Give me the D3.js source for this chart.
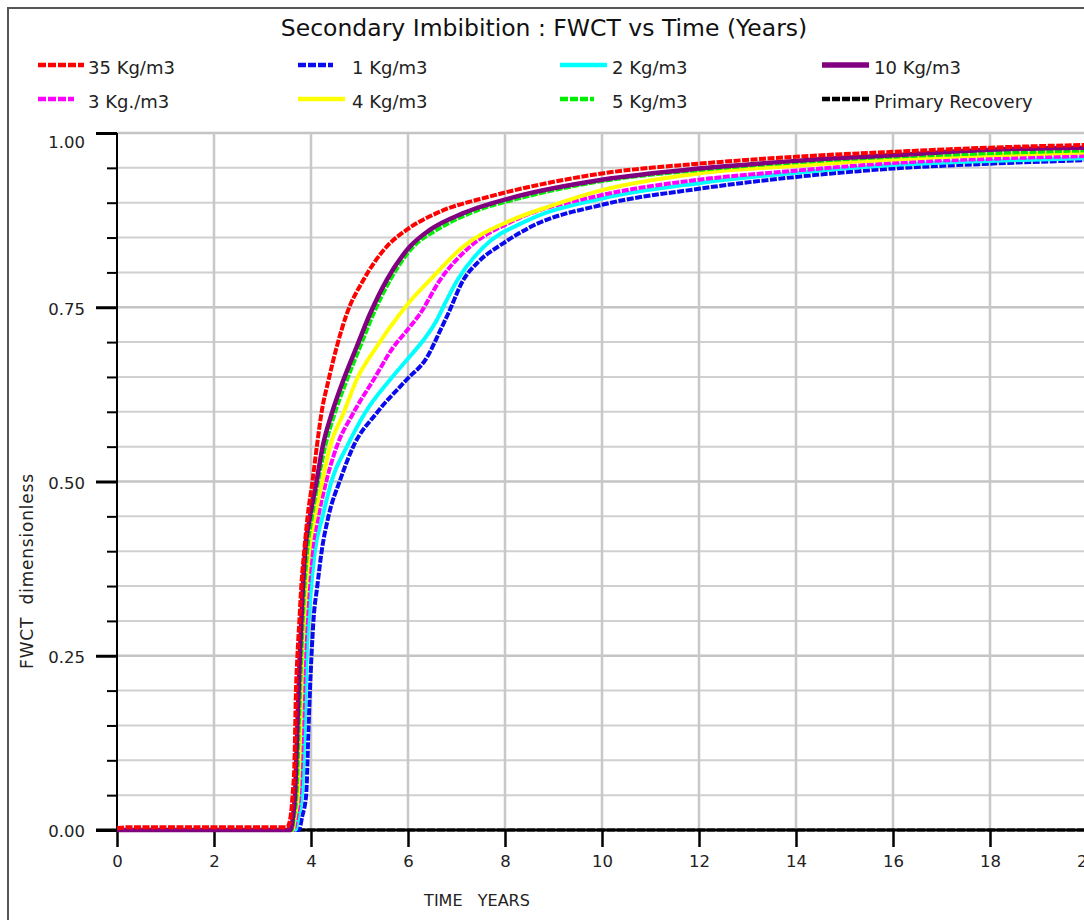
<!DOCTYPE html>
<html>
<head>
<meta charset="utf-8">
<script src="https://cdn.jsdelivr.net/npm/d3@7"></script>
<style>
  body { margin: 0; background: #fff; }
  svg { display: block; font-family: "DejaVu Sans", sans-serif; }
</style>
</head>
<body>
<div id="graph"></div>
<script>
// [years, FWCT]
var kg35 = [[0,0.003],[0.3,0.004],[3.5,0.004],[3.56,0.012],[3.62,0.05],[3.66,0.10],[3.69,0.20],[3.72,0.25],[3.76,0.30],[3.80,0.35],[3.86,0.40],[3.93,0.45],[4.03,0.50],[4.12,0.55],[4.22,0.60],[4.36,0.645],[4.53,0.693],[4.74,0.741],[5.08,0.789],[5.56,0.837],[5.97,0.861],[6.59,0.885],[7.69,0.909],[8.86,0.928],[10,0.942],[12,0.956],[14,0.966],[16,0.973],[18,0.979],[20,0.983]];
var kg1 = [[0,0],[3.75,0],[3.82,0.02],[3.90,0.05],[3.95,0.15],[4.01,0.25],[4.05,0.30],[4.13,0.35],[4.22,0.40],[4.36,0.45],[4.60,0.502],[4.87,0.55],[5.35,0.598],[5.97,0.646],[6.39,0.678],[6.66,0.716],[6.83,0.741],[7.14,0.789],[7.42,0.813],[7.97,0.842],[8.52,0.865],[10,0.897],[12,0.920],[14,0.937],[16,0.949],[18,0.956],[20,0.961]];
var kg2 = [[0,0],[3.68,0],[3.74,0.02],[3.81,0.05],[3.87,0.15],[3.91,0.25],[3.98,0.33],[4.08,0.40],[4.24,0.45],[4.43,0.502],[4.74,0.55],[5.11,0.598],[5.63,0.646],[5.97,0.674],[6.32,0.703],[6.59,0.731],[6.76,0.755],[7.02,0.789],[7.55,0.836],[8.45,0.874],[10,0.906],[12,0.928],[14,0.943],[16,0.954],[18,0.960],[20,0.964]];
var kg10 = [[0,0],[3.58,0],[3.63,0.02],[3.67,0.05],[3.72,0.15],[3.77,0.25],[3.82,0.33],[3.88,0.40],[3.98,0.45],[4.12,0.502],[4.24,0.55],[4.43,0.598],[4.67,0.646],[4.94,0.693],[5.22,0.741],[5.56,0.789],[6.04,0.837],[6.45,0.861],[7.14,0.885],[8.24,0.909],[10,0.933],[12,0.949],[14,0.960],[16,0.968],[18,0.976],[20,0.979]];
var kg3 = [[0,0],[3.64,0],[3.70,0.02],[3.76,0.05],[3.82,0.15],[3.86,0.25],[3.92,0.33],[4.02,0.40],[4.15,0.45],[4.32,0.502],[4.53,0.55],[4.87,0.598],[5.29,0.646],[5.70,0.693],[5.97,0.716],[6.25,0.741],[6.66,0.789],[7.28,0.837],[8.17,0.874],[10,0.911],[12,0.933],[14,0.946],[16,0.957],[18,0.963],[20,0.967]];
var kg4 = [[0,0],[3.62,0],[3.67,0.02],[3.73,0.05],[3.78,0.15],[3.82,0.25],[3.88,0.33],[3.96,0.40],[4.08,0.45],[4.24,0.502],[4.39,0.55],[4.67,0.598],[4.94,0.646],[5.35,0.693],[5.84,0.741],[6.11,0.764],[6.45,0.789],[7.14,0.837],[8.10,0.874],[8.93,0.895],[10,0.918],[12,0.942],[14,0.953],[16,0.962],[18,0.968],[20,0.972]];
var kg5 = [[0,0],[3.6,0],[3.65,0.02],[3.70,0.05],[3.75,0.15],[3.80,0.25],[3.85,0.33],[3.92,0.40],[4.02,0.45],[4.15,0.502],[4.29,0.55],[4.49,0.598],[4.74,0.646],[5.01,0.693],[5.29,0.741],[5.63,0.789],[6.11,0.837],[6.59,0.861],[7.28,0.885],[8.45,0.909],[10,0.931],[12,0.947],[14,0.958],[16,0.966],[18,0.971],[20,0.975]];
var primary = [[0,0],[20,0]];

var seriesNames = ["35 Kg/m3", "1 Kg/m3", "2 Kg/m3", "10 Kg/m3", "3 Kg./m3", "4 Kg/m3", "5 Kg/m3", "Primary Recovery"];
var seriesData = [kg35, kg1, kg2, kg10, kg3, kg4, kg5, primary];
var xTicks = [0, 2, 4, 6, 8, 10, 12, 14, 16, 18, 20];
var yMajor = [0, 0.25, 0.5, 0.75, 1];
var yMinor = [0.05, 0.1, 0.15, 0.2, 0.3, 0.35, 0.4, 0.45, 0.55, 0.6, 0.65, 0.7, 0.8, 0.85, 0.9, 0.95];

// styles, same order as seriesNames
var colours = ["#ff0000", "#0a0aee", "#00ffff", "#800080", "#ff00ff", "#ffff00", "#00ee00", "#000000"];
var dashes = ["7,1.5", "7,1.5", null, null, "7,1.5", null, "7,1.5", "8,2"];
var widths = [4, 4, 4, 4.5, 4, 4, 4, 3];
var drawOrder = [7, 1, 2, 4, 5, 6, 3, 0];

var W = 1084, H = 920;
var margin = {top: 133, left: 117};
var plotW = 970, plotH = 697;

var svg = d3.select('#graph').append('svg')
    .attr('width', W)
    .attr('height', H);

// frame
svg.append('path')
    .attr('d', 'M8,' + H + 'V8H' + W)
    .attr('fill', 'none')
    .attr('stroke', '#555')
    .attr('stroke-width', 2);

svg.append('text')
    .attr('x', 544)
    .attr('y', 36)
    .attr('text-anchor', 'middle')
    .style('font-size', '23.5px')
    .style('fill', '#111')
    .text('Secondary Imbibition : FWCT vs Time (Years)');

var x = d3.scaleLinear().domain([0, 20]).range([margin.left, margin.left + plotW]);
var y = d3.scaleLinear().domain([0, 1]).range([margin.top + plotH, margin.top]);

// grid
var grid = svg.append('g');
grid.selectAll('.hminor')
    .data(yMinor).enter().append('line')
    .attr('x1', x(0)).attr('x2', x(20))
    .attr('y1', function(d){ return y(d); }).attr('y2', function(d){ return y(d); })
    .attr('stroke', '#d0d0d0').attr('stroke-width', 2);
grid.selectAll('.hmajor')
    .data(yMajor.slice(1)).enter().append('line')
    .attr('x1', x(0)).attr('x2', x(20))
    .attr('y1', function(d){ return y(d); }).attr('y2', function(d){ return y(d); })
    .attr('stroke', '#c4c4c4').attr('stroke-width', 2.5);
grid.selectAll('.vgrid')
    .data(xTicks.slice(1)).enter().append('line')
    .attr('x1', function(d){ return x(d); }).attr('x2', function(d){ return x(d); })
    .attr('y1', y(1)).attr('y2', y(0))
    .attr('stroke', '#c8c8c8').attr('stroke-width', 2.5);

// y axis
var yMinorAxis = d3.axisLeft(y).tickValues(yMinor).tickSize(10).tickFormat('');
var gyMinor = svg.append('g').attr('transform', 'translate(' + margin.left + ',0)').call(yMinorAxis);
gyMinor.select('.domain').remove();
gyMinor.selectAll('line').attr('stroke', '#000').attr('stroke-width', 2);

var yAxis = d3.axisLeft(y).tickValues(yMajor).tickSize(21).tickPadding(11).tickFormat(d3.format('.2f'));
var gy = svg.append('g').attr('transform', 'translate(' + margin.left + ',0)').call(yAxis);
gy.select('.domain').remove();
gy.selectAll('line').attr('stroke', '#000').attr('stroke-width', 3);
gy.selectAll('text')
    .style('font-size', '16.5px')
    .style('font-family', '"DejaVu Sans", sans-serif')
    .style('fill', '#222')
    .attr('dy', function(d){ return d === 1 ? '0.85em' : '0.42em'; });

svg.append('line')
    .attr('x1', margin.left).attr('x2', margin.left)
    .attr('y1', y(1)).attr('y2', y(0))
    .attr('stroke', '#000').attr('stroke-width', 2);

// x axis
var xAxis = d3.axisBottom(x).tickValues(xTicks).tickSize(17).tickPadding(8);
var gx = svg.append('g').attr('transform', 'translate(0,' + y(0) + ')').call(xAxis);
gx.select('.domain').remove();
gx.selectAll('line').attr('stroke', '#000').attr('stroke-width', 2.5);
gx.selectAll('text')
    .style('font-size', '16.5px')
    .style('font-family', '"DejaVu Sans", sans-serif')
    .style('fill', '#222');

svg.append('line')
    .attr('x1', margin.left - 21).attr('x2', x(20))
    .attr('y1', y(0)).attr('y2', y(0))
    .attr('stroke', '#000').attr('stroke-width', 3);

// axis titles
svg.append('text')
    .attr('transform', 'translate(33,571) rotate(-90)')
    .attr('text-anchor', 'middle')
    .style('font-size', '17px')
    .style('letter-spacing', '0.8px')
    .style('white-space', 'pre')
    .style('fill', '#222')
    .text('FWCT  dimensionless');

svg.append('text')
    .attr('x', 477)
    .attr('y', 906)
    .attr('text-anchor', 'middle')
    .style('font-size', '16px')
    .style('white-space', 'pre')
    .style('fill', '#222')
    .text('TIME   YEARS');

// curves
var line = d3.line()
    .x(function(d){ return x(d[0]); })
    .y(function(d){ return y(d[1]); })
    .curve(d3.curveMonotoneX);

svg.append('g').selectAll('path')
    .data(drawOrder).enter().append('path')
    .attr('d', function(i){ return line(seriesData[i]); })
    .attr('fill', 'none')
    .attr('stroke', function(i){ return colours[i]; })
    .attr('stroke-width', function(i){ return widths[i]; })
    .attr('stroke-dasharray', function(i){ return dashes[i]; });

// legend
var legX = [38, 298, 560, 822];
var legLen = [46, 35, 47, 47, 36, 47, 34, 47];
var textX = [88, 352, 612, 874];
var legend = svg.append('g').selectAll('g')
    .data(seriesNames).enter().append('g')
    .attr('transform', function(d, i){
        return 'translate(0,' + (i < 4 ? 0 : 34) + ')';
    });
legend.append('line')
    .attr('x1', function(d, i){ return legX[i % 4]; })
    .attr('x2', function(d, i){ return legX[i % 4] + legLen[i]; })
    .attr('y1', 65).attr('y2', 65)
    .attr('stroke', function(d, i){ return colours[i]; })
    .attr('stroke-width', function(d, i){ return i === 3 ? 5.5 : 4.5; })
    .attr('stroke-dasharray', function(d, i){ return dashes[i] ? '8,2' : null; });
legend.append('text')
    .attr('x', function(d, i){ return textX[i % 4]; })
    .attr('y', 74)
    .style('font-size', '18px')
    .style('fill', '#222')
    .text(function(d){ return d; });
</script>
</body>
</html>
